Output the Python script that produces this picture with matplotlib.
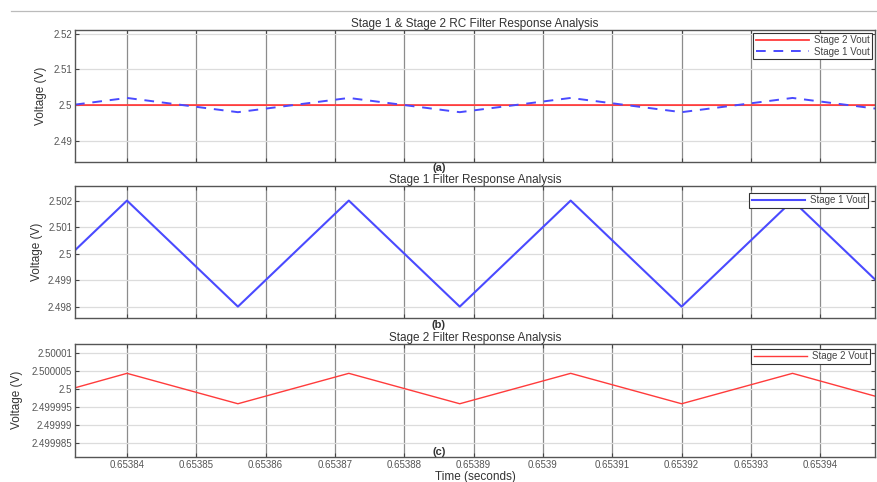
import matplotlib.pyplot as plt
from matplotlib.lines import Line2D

# -- data (triangle wave vertices) --
t = [0.6538325, 0.65384, 0.653856, 0.653872, 0.653888, 0.653904, 0.65392, 0.653936, 0.6539479]
stage1 = [2.500125, 2.502, 2.498, 2.502, 2.498, 2.502, 2.498, 2.502, 2.499025]
stage2 = [2.5000003, 2.5000043, 2.4999959, 2.5000043, 2.4999959, 2.5000043, 2.4999959, 2.5000043, 2.499998]

x_ticks = [0.65384, 0.65385, 0.65386, 0.65387, 0.65388, 0.65389, 0.6539, 0.65391, 0.65392, 0.65393, 0.65394]
x_labels = ['0.65384', '0.65385', '0.65386', '0.65387', '0.65388', '0.65389', '0.6539',
            '0.65391', '0.65392', '0.65393', '0.65394']
y1_ticks = [2.49, 2.5, 2.51, 2.52]
y1_labels = ['2.49', '2.5', '2.51', '2.52']
y2_ticks = [2.498, 2.499, 2.5, 2.501, 2.502]
y2_labels = ['2.498', '2.499', '2.5', '2.501', '2.502']
y3_ticks = [2.499985, 2.49999, 2.499995, 2.5, 2.500005, 2.50001]
y3_labels = ['2.499985', '2.49999', '2.499995', '2.5', '2.500005', '2.50001']

RED = '#ff3b3b'
BLUE = '#4a4aff'
TXT = '#333333'

plt.rcParams['font.family'] = ['Liberation Sans', 'DejaVu Sans']

fig = plt.figure(figsize=(8.78, 4.82), dpi=100)

ax1 = fig.add_axes([0.0854, 0.6639, 0.9112, 0.2739])
ax2 = fig.add_axes([0.0854, 0.3402, 0.9112, 0.2739])
ax3 = fig.add_axes([0.0854, 0.0519, 0.9112, 0.2344])


def style(ax, yt, yl, ylim):
    ax.set_xlim(t[0], t[-1])
    ax.set_ylim(*ylim)
    ax.set_xticks(x_ticks)
    ax.set_yticks(yt)
    ax.set_yticklabels(yl)
    ax.tick_params(direction='in', top=True, right=True, length=3, width=0.8,
                   labelsize=7, labelcolor='#555555', colors='#444444', pad=2)
    ax.xaxis.grid(True, color='#8c8c8c', linewidth=0.9)
    ax.yaxis.grid(True, color='#dcdcdc', linewidth=0.9)
    ax.set_axisbelow(True)
    for s in ax.spines.values():
        s.set_color('#555555')
        s.set_linewidth(1.0)


def legend(ax, pad):
    lg = ax.legend(loc='upper right', fontsize=7, frameon=True, fancybox=False, edgecolor='#333333',
                   borderpad=0.25, labelspacing=0.15, handlelength=5.5, handletextpad=0.5,
                   borderaxespad=pad, labelcolor='#444444', framealpha=1)
    lg.get_frame().set_linewidth(0.8)


# (a) both stages
ax1.plot(t, stage2, color=RED, lw=1.3, label='Stage 2 Vout')
ax1.plot(t, stage1, color=BLUE, lw=1.4, ls=(0, (5, 4)), label='Stage 1 Vout')
style(ax1, y1_ticks, y1_labels, (2.484, 2.5211))
ax1.set_xticklabels([])
ax1.set_title('Stage 1 & Stage 2 RC Filter Response Analysis', fontsize=8.5, color=TXT, pad=2)
legend(ax1, 0.3)

# (b) stage 1
ax2.plot(t, stage1, color=BLUE, lw=1.5, label='Stage 1 Vout')
style(ax2, y2_ticks, y2_labels, (2.49757, 2.50255))
ax2.set_xticklabels([])
ax2.set_title('Stage 1 Filter Response Analysis', fontsize=8.5, color=TXT, pad=2)
legend(ax2, 0.7)

# (c) stage 2
ax3.plot(t, stage2, color=RED, lw=1.0, label='Stage 2 Vout')
style(ax3, y3_ticks, y3_labels, (2.4999812, 2.5000124))
ax3.set_xticklabels(x_labels)
ax3.set_title('Stage 2 Filter Response Analysis', fontsize=8.5, color=TXT, pad=2)
ax3.set_xlabel('Time (seconds)', fontsize=8.5, color=TXT, labelpad=1)
legend(ax3, 0.5)

# y labels
fig.text(0.047, 1 - 96 / 482, 'Voltage (V)', rotation=90, ha='center', va='center', fontsize=8.5, color=TXT)
fig.text(0.042, 1 - 252 / 482, 'Voltage (V)', rotation=90, ha='center', va='center', fontsize=8.5, color=TXT)
fig.text(0.019, 1 - 400 / 482, 'Voltage (V)', rotation=90, ha='center', va='center', fontsize=8.5, color=TXT)

# panel letters
fig.text(0.5, 1 - 168 / 482, '(a)', ha='center', va='center', fontsize=8, fontweight='bold', color=TXT)
fig.text(0.5, 1 - 325 / 482, '(b)', ha='center', va='center', fontsize=8, fontweight='bold', color=TXT)
fig.text(0.5, 1 - 452 / 482, '(c)', ha='center', va='center', fontsize=8, fontweight='bold', color=TXT)

# thin rule at the top
fig.add_artist(Line2D([0.012, 1.0], [1 - 11 / 482, 1 - 11 / 482], color='#bbbbbb', lw=0.9))

fig.savefig('out.png', dpi=100)
